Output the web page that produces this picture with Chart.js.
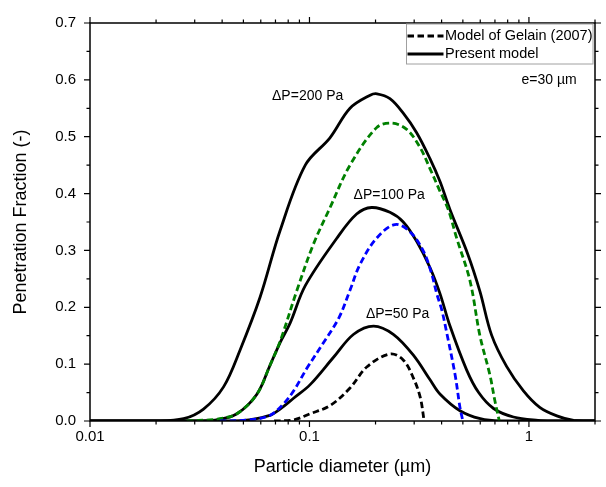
<!DOCTYPE html>
<html>
<head>
<meta charset="utf-8">
<script src="https://cdn.jsdelivr.net/npm/chart.js@4.4.0/dist/chart.umd.min.js"></script>
<style>
html, body { margin: 0; padding: 0; background: #fff; }
</style>
</head>
<body>
<canvas id="myChart" width="606" height="487"></canvas>
<script>
// present model (solid) and Gelain 2007 model (dashed), e = 30 um
const s200x = [0.01, 0.02, 0.0267, 0.0329, 0.0406, 0.0483, 0.0596, 0.0735, 0.0957, 0.124, 0.153, 0.189, 0.203, 0.2326, 0.2675, 0.3079, 0.354, 0.393, 0.4365, 0.527, 0.598, 0.676, 0.791, 0.944, 1.12, 1.34, 1.6, 2.0]
const s200y = [0, 0, 0.004, 0.021, 0.060, 0.125, 0.218, 0.335, 0.450, 0.498, 0.550, 0.573, 0.5755, 0.567, 0.5415, 0.507, 0.4615, 0.4215, 0.372, 0.293, 0.228, 0.151, 0.096, 0.053, 0.024, 0.009, 0.001, 0]

const g200x = [0.0276, 0.035, 0.0392, 0.0467, 0.0576, 0.0662, 0.0735, 0.0877, 0.104, 0.124, 0.153, 0.2023, 0.2369, 0.2773, 0.3187, 0.354, 0.393, 0.429, 0.4685, 0.5385, 0.598, 0.664, 0.70, 0.733]
const g200y = [0, 0.002, 0.004, 0.0127, 0.047, 0.0985, 0.14, 0.23, 0.31, 0.375, 0.450, 0.516, 0.524, 0.513, 0.4815, 0.444, 0.4044, 0.372, 0.3216, 0.247, 0.150, 0.081, 0.035, 0]

const s100x = [0.01, 0.03, 0.0378, 0.0467, 0.0576, 0.0662, 0.0735, 0.0817, 0.0957, 0.133, 0.164, 0.192, 0.2326, 0.2675, 0.3079, 0.354, 0.393, 0.4365, 0.52, 0.59, 0.69, 0.85, 1.1, 1.3, 2.0]
const s100y = [0, 0, 0.002, 0.0127, 0.047, 0.0985, 0.138, 0.1726, 0.238, 0.321, 0.364, 0.3755, 0.367, 0.350, 0.316, 0.270, 0.2245, 0.1674, 0.09, 0.050, 0.022, 0.007, 0.001, 0, 0]

const b100x = [0.039, 0.053, 0.066, 0.0761, 0.0846, 0.0973, 0.116, 0.136, 0.153, 0.170, 0.2023, 0.2452, 0.2869, 0.33, 0.3603, 0.3798, 0.4003, 0.4217, 0.461, 0.485, 0.50]
const b100y = [0, 0.002, 0.0098, 0.030, 0.0526, 0.0926, 0.138, 0.181, 0.230, 0.2755, 0.3216, 0.3456, 0.333, 0.299, 0.259, 0.2245, 0.196, 0.156, 0.081, 0.024, 0]

const s50x = [0.01, 0.045, 0.053, 0.066, 0.0735, 0.0846, 0.1007, 0.129, 0.159, 0.196, 0.241, 0.298, 0.355, 0.394, 0.485, 0.6, 0.74, 2.0]
const s50y = [0, 0, 0.002, 0.0098, 0.021, 0.040, 0.064, 0.1126, 0.1526, 0.167, 0.1525, 0.1155, 0.072, 0.047, 0.018, 0.004, 0, 0]

const g50x = [0.069, 0.0846, 0.1007, 0.124, 0.153, 0.183, 0.233, 0.268, 0.298, 0.320, 0.333]
const g50y = [0, 0.002, 0.0127, 0.027, 0.058, 0.0955, 0.118, 0.107, 0.075, 0.041, 0]

const xTickVals = [0.01, 0.02, 0.03, 0.04, 0.05, 0.06, 0.07, 0.08, 0.09, 0.1, 0.2, 0.3, 0.4, 0.5, 0.6, 0.7, 0.8, 0.9, 1, 2]
const xMajor = [0.01, 0.1, 1]
const xLabels = ['0.01', '0.1', '1']
const yTickVals = [0, 0.05, 0.1, 0.15, 0.2, 0.25, 0.3, 0.35, 0.4, 0.45, 0.5, 0.55, 0.6, 0.65, 0.7]

const legendLabels = ['Model of Gelain (2007)', 'Present model']
const annoText = ['\u0394P=200 Pa', '\u0394P=100 Pa', '\u0394P=50 Pa', 'e=30 \u00b5m']
const annoX = [0.0981, 0.2307, 0.2522, 1.236]
const annoY = [0.571, 0.3975, 0.1885, 0.599]

const FONT = "'Liberation Sans', Arial, sans-serif"
const DASH = [6.5, 3.5]

const pts = (xs, ys) => xs.map((x, i) => ({ x: x, y: ys[i] }))

function line(label, xs, ys, color, dashed) {
    return {
        label: label,
        data: pts(xs, ys),
        borderColor: color,
        backgroundColor: color,
        borderWidth: 2.8,
        borderDash: dashed ? DASH : [],
        pointRadius: 0,
        tension: 0.35,
        fill: false
    }
}

// frame, tick marks, annotations and legend box
const decor = {
    id: 'decor',
    afterDatasetsDraw(chart) {
        const { ctx, chartArea: a, scales: { x, y } } = chart
        ctx.save()
        ctx.strokeStyle = '#000'
        ctx.lineWidth = 1.5
        ctx.setLineDash([])
        ctx.strokeRect(a.left, a.top, a.right - a.left, a.bottom - a.top)

        ctx.lineWidth = 1.2
        ctx.beginPath()
        xTickVals.forEach(v => {
            const px = x.getPixelForValue(v)
            const len = xMajor.includes(v) ? 6 : 3.5
            ctx.moveTo(px, a.bottom); ctx.lineTo(px, a.bottom + len)
            ctx.moveTo(px, a.top); ctx.lineTo(px, a.top - len)
        })
        yTickVals.forEach((v, i) => {
            const py = y.getPixelForValue(v)
            const len = i % 2 === 0 ? 6 : 3.5
            ctx.moveTo(a.left - len, py); ctx.lineTo(a.left, py)
            ctx.moveTo(a.right, py); ctx.lineTo(a.right + len, py)
        })
        ctx.stroke()

        ctx.fillStyle = '#000'
        ctx.font = '14px ' + FONT
        ctx.textAlign = 'center'
        ctx.textBaseline = 'middle'
        annoText.forEach((t, i) => {
            ctx.fillText(t, x.getPixelForValue(annoX[i]), y.getPixelForValue(annoY[i]))
        })

        // legend
        const bx = a.right - 188.5, by = a.top + 1, bw = 186.5, bh = 40
        ctx.fillStyle = '#fff'
        ctx.fillRect(bx, by, bw, bh)
        ctx.strokeStyle = '#a0a0a0'
        ctx.lineWidth = 1
        ctx.strokeRect(bx, by, bw, bh)
        ctx.strokeStyle = '#000'
        ctx.lineWidth = 2.8
        ctx.setLineDash(DASH)
        ctx.beginPath(); ctx.moveTo(bx + 1, by + 12); ctx.lineTo(bx + 37, by + 12); ctx.stroke()
        ctx.setLineDash([])
        ctx.beginPath(); ctx.moveTo(bx + 1, by + 30); ctx.lineTo(bx + 37, by + 30); ctx.stroke()
        ctx.fillStyle = '#000'
        ctx.font = '14.5px ' + FONT
        ctx.textAlign = 'left'
        ctx.fillText(legendLabels[0], bx + 38.5, by + 12)
        ctx.fillText(legendLabels[1], bx + 38.5, by + 30)
        ctx.restore()
    }
}

Chart.defaults.font.family = FONT
Chart.defaults.color = '#000'

const data = {
    datasets: [
        line(legendLabels[0], g50x, g50y, '#000000', true),
        line(legendLabels[0], b100x, b100y, '#0000ff', true),
        line(legendLabels[0], g200x, g200y, '#008000', true),
        line(legendLabels[1], s50x, s50y, '#000000', false),
        line(legendLabels[1], s100x, s100y, '#000000', false),
        line(legendLabels[1], s200x, s200y, '#000000', false)
    ]
}

const config = {
    type: 'line',
    data: data,
    options: {
        responsive: false,
        animation: false,
        layout: { padding: { top: 12.5, right: 11, left: 0, bottom: 0 } },
        plugins: { legend: { display: false }, tooltip: { enabled: false } },
        scales: {
            x: {
                type: 'logarithmic',
                min: 0.01,
                max: 2,
                grid: { display: false, drawTicks: false },
                border: { display: false },
                afterBuildTicks: s => { s.ticks = xTickVals.map(v => ({ value: v })) },
                afterFit: s => { s.height = 66 },
                ticks: {
                    autoSkip: false,
                    maxRotation: 0,
                    padding: 7,
                    font: { size: 15 },
                    callback: v => {
                        const i = xMajor.findIndex(m => Math.abs(m - v) < 1e-9)
                        return i >= 0 ? xLabels[i] : ''
                    }
                },
                title: {
                    display: true,
                    text: 'Particle diameter (\u00b5m)',
                    font: { size: 18 },
                    padding: { top: 0, bottom: 9 }
                }
            },
            y: {
                min: 0,
                max: 0.7,
                grid: { display: false, drawTicks: false },
                border: { display: false },
                afterFit: s => { s.width = 90 },
                ticks: {
                    stepSize: 0.1,
                    padding: 14,
                    font: { size: 15 },
                    callback: v => v.toFixed(1)
                },
                title: {
                    display: true,
                    text: 'Penetration Fraction (-)',
                    font: { size: 18 },
                    padding: { top: 10, bottom: 0 }
                }
            }
        }
    },
    plugins: [decor]
}

const myChart = new Chart(document.getElementById('myChart'), config)
</script>
</body>
</html>
